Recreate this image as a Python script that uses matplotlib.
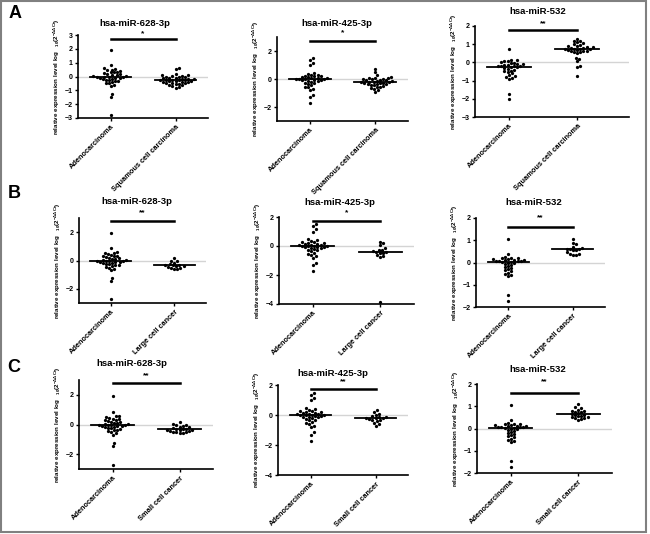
import numpy as np
import matplotlib
matplotlib.use("Agg")
import matplotlib.pyplot as plt
from matplotlib.patches import Rectangle

plt.rcParams['font.family'] = ['Liberation Sans', 'DejaVu Sans']
plt.rcParams['mathtext.default'] = 'regular'

mirnas = ["hsa-miR-628-3p", "hsa-miR-425-3p", "hsa-miR-532"]
panel_letters = ["A", "B", "C"]
ref_group = "Adenocarcinoma"
other_groups = ["Squamous cell carcinoma", "Large cell cancer", "Small cell cancer"]
stars = [["*", "*", "**"],
         ["**", "*", "**"],
         ["**", "**", "**"]]

# adenocarcinoma values (same samples compared in each row)
adeno_628 = [1.95, 0.85, 0.6, 0.55, 0.5, 0.45, 0.4, 0.35, 0.3, 0.3, 0.25, 0.2, 0.15, 0.1, 0.1,
             0.05, 0.02, 0.0, 0.0, -0.02, -0.05, -0.08, -0.1, -0.12, -0.15, -0.2, -0.22, -0.25,
             -0.3, -0.35, -0.4, -0.45, -0.5, -0.6, -0.7, -1.25, -1.45, -2.75]
adeno_425 = [1.5, 1.35, 1.15, 1.0, 0.45, 0.38, 0.32, 0.28, 0.25, 0.2, 0.18, 0.15, 0.12, 0.1,
             0.08, 0.05, 0.02, 0.0, 0.0, -0.02, -0.05, -0.08, -0.1, -0.12, -0.15, -0.2, -0.25,
             -0.3, -0.35, -0.45, -0.55, -0.6, -0.7, -0.8, -1.15, -1.3, -1.7]
adeno_532_a = [0.75, 0.15, 0.12, 0.08, 0.05, 0.02, -0.02, -0.05, -0.08, -0.1, -0.12, -0.15,
               -0.18, -0.2, -0.2, -0.22, -0.25, -0.28, -0.3, -0.35, -0.4, -0.45, -0.5, -0.55,
               -0.6, -0.7, -0.75, -0.8, -0.85, -0.9, -1.75, -2.0]
adeno_532 = [1.05, 0.4, 0.25, 0.22, 0.2, 0.18, 0.15, 0.15, 0.12, 0.1, 0.1, 0.08, 0.08, 0.06,
             0.05, 0.04, 0.02, 0.0, -0.02, -0.05, -0.1, -0.15, -0.2, -0.25, -0.3, -0.35, -0.4,
             -0.45, -0.5, -0.55, -0.6, -1.45, -1.72]

sq_628 = [0.58, 0.52, 0.15, 0.1, 0.08, 0.05, 0.02, 0.0, -0.02, -0.05, -0.08, -0.1, -0.12,
          -0.15, -0.18, -0.2, -0.22, -0.25, -0.25, -0.25, -0.28, -0.3, -0.32, -0.35, -0.38,
          -0.4, -0.42, -0.45, -0.48, -0.5, -0.52, -0.55, -0.6, -0.65, -0.7, -0.75, -0.8]
sq_425 = [0.75, 0.5, 0.3, 0.12, 0.1, 0.08, 0.05, 0.02, 0.0, -0.02, -0.05, -0.08, -0.1, -0.12,
          -0.15, -0.18, -0.2, -0.22, -0.22, -0.25, -0.28, -0.3, -0.33, -0.35, -0.38, -0.4,
          -0.45, -0.5, -0.55, -0.6, -0.65, -0.7, -0.8, -0.9]
sq_532 = [1.3, 1.2, 1.15, 1.1, 1.05, 1.0, 0.95, 0.9, 0.88, 0.85, 0.82, 0.8, 0.78, 0.76, 0.75,
          0.73, 0.72, 0.7, 0.68, 0.65, 0.62, 0.6, 0.58, 0.55, 0.5, 0.25, 0.2, 0.05, -0.2,
          -0.25, -0.75]

lc_628 = [0.15, 0.0, -0.05, -0.15, -0.25, -0.3, -0.32, -0.35, -0.38, -0.4, -0.45, -0.5,
          -0.55, -0.6, -0.6]
lc_425 = [0.3, 0.2, 0.05, -0.15, -0.25, -0.3, -0.35, -0.38, -0.4, -0.45, -0.5, -0.6, -0.7,
          -0.75, -3.85]
lc_532 = [1.05, 0.88, 0.82, 0.7, 0.65, 0.62, 0.6, 0.6, 0.58, 0.55, 0.45, 0.4, 0.38, 0.35, 0.33]

sc_628 = [0.15, 0.05, 0.0, -0.05, -0.1, -0.15, -0.2, -0.25, -0.28, -0.3, -0.33, -0.35, -0.37,
          -0.4, -0.42, -0.45, -0.48, -0.5, -0.52, -0.55, -0.6]
sc_425 = [0.35, 0.2, 0.1, 0.0, -0.05, -0.1, -0.15, -0.18, -0.2, -0.22, -0.25, -0.3, -0.35,
          -0.4, -0.5, -0.6, -0.7]
sc_532 = [1.1, 0.95, 0.9, 0.85, 0.8, 0.78, 0.75, 0.72, 0.7, 0.65, 0.62, 0.6, 0.58, 0.55, 0.52,
          0.5, 0.48, 0.45, 0.42, 0.4]

ref_data = [[adeno_628, adeno_425, adeno_532_a],
            [adeno_628, adeno_425, adeno_532],
            [adeno_628, adeno_425, adeno_532]]
other_data = [[sq_628, sq_425, sq_532],
              [lc_628, lc_425, lc_532],
              [sc_628, sc_425, sc_532]]

ylims = [[(-3, 3), (-3, 3), (-3, 2)],
         [(-3, 3), (-4, 2), (-2, 2)],
         [(-3, 3), (-4, 2), (-2, 2)]]
yticks = [[[-3, -2, -1, 0, 1, 2, 3], [-2, 0, 2], [-3, -2, -1, 0, 1, 2]],
          [[-2, 0, 2], [-4, -2, 0, 2], [-2, -1, 0, 1, 2]],
          [[-2, 0, 2], [-4, -2, 0, 2], [-2, -1, 0, 1, 2]]]
sig_y = [[2.7, 2.7, 1.78], [2.8, 1.72, 1.6], [2.8, 1.73, 1.6]]
star_y = [[3.1, 3.3, 2.1], [3.35, 2.3, 2.0], [3.3, 2.2, 2.1]]

# layout in pixels: left, right, top, bottom of each axes
W, H = 650, 534
boxes = [[(78, 208, 35, 118), (277, 408, 37, 121), (475, 629, 26, 117)],
         [(79, 206, 218, 303), (279, 414, 217, 304), (476, 605, 218, 307)],
         [(79, 213, 380, 469), (278, 408, 385, 475), (477, 612, 384, 473)]]
title_pos = [[(135, 23), (337, 23), (538, 12)],
             [(137, 202), (340, 203), (534, 203)],
             [(132, 363), (333, 373), (538, 370)]]
letter_pos = [(15, 14), (14, 193), (14, 368)]


def swarm(vals, xc, ppx, ppy, d=3.1):
    vals = np.asarray(vals, dtype=float)
    xs = np.zeros(len(vals))
    placed = []
    cands = [0.0]
    for k in range(1, 40):
        cands += [k * d * 0.5, -k * d * 0.5]
    for i in np.argsort(vals):
        y = vals[i] * ppy
        for off in cands:
            if all((off - px) ** 2 + (y - py) ** 2 >= d * d for px, py in placed):
                break
        placed.append((off, y))
        xs[i] = xc + off / ppx
    return xs


fig = plt.figure(figsize=(W / 100, H / 100), dpi=100)

for r in range(3):
    for c in range(3):
        l, rt, t, b = boxes[r][c]
        ax = fig.add_axes([l / W, 1 - b / H, (rt - l) / W, (b - t) / H])
        xlim = (-0.5, 1.76) if (r, c) == (0, 2) else (-0.5, 1.5)
        ax.set_xlim(*xlim)
        ax.set_ylim(*ylims[r][c])
        ppx = (rt - l) / (xlim[1] - xlim[0])
        ppy = (b - t) / (ylims[r][c][1] - ylims[r][c][0])

        ax.axhline(0, color='#d4d4d4', lw=1, zorder=0)
        for xc, vals in enumerate([ref_data[r][c], other_data[r][c]]):
            xs = swarm(vals, xc, ppx, ppy)
            ax.scatter(xs, vals, s=5.5, color='black', linewidths=0, zorder=3)
            med = np.median(vals)
            ax.plot([xc - 0.32, xc + 0.32], [med, med], color='black', lw=1.3, zorder=2)

        ax.plot([0, 1], [sig_y[r][c], sig_y[r][c]], color='black', lw=1.8, clip_on=False)
        ax.text(0.5, star_y[r][c], stars[r][c], ha='center', va='center',
                fontsize=6, fontweight='bold', clip_on=False)

        for s in ['top', 'right']:
            ax.spines[s].set_visible(False)
        for s in ['left', 'bottom']:
            ax.spines[s].set_linewidth(1.2)
        ax.set_yticks(yticks[r][c])
        ax.set_xticks([0, 1])
        ax.set_xticklabels([ref_group, other_groups[r]], rotation=45, ha='right',
                           rotation_mode='anchor', fontsize=5.3, fontweight='bold')
        ax.tick_params(axis='both', length=2.5, width=1, pad=1.5)
        ax.tick_params(axis='y', labelsize=5)
        for lab in ax.get_yticklabels():
            lab.set_fontweight('bold')
        ax.set_ylabel(r'relative expression level log   $_{10}$(2$^{-\Delta\Delta Ct}$)',
                      fontsize=4.5, fontweight='bold')
        ax.yaxis.set_label_coords(-16 / (rt - l), 0.5)

        tx, ty = title_pos[r][c]
        fig.text(tx / W, 1 - ty / H, mirnas[c], ha='center', va='center',
                 fontsize=6.8, fontweight='bold')

    lx, ly = letter_pos[r]
    fig.text(lx / W, 1 - ly / H, panel_letters[r], ha='center', va='center',
             fontsize=13, fontweight='bold')

fig.add_artist(Rectangle((1 / W, 2 / H), 645 / W, 531 / H, transform=fig.transFigure,
                         fill=False, edgecolor='#808080', lw=1.5))

plt.savefig('out.png', dpi=100)
plt.close()
